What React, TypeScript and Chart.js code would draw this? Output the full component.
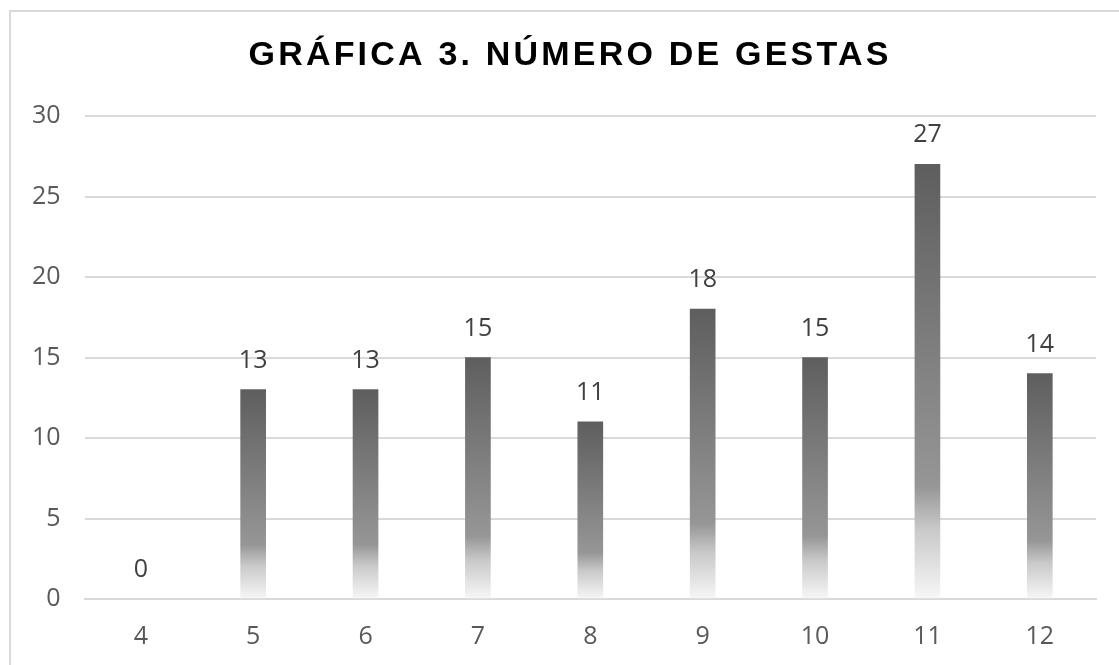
import React, { useEffect, useRef } from 'react';
import { Chart, registerables } from 'chart.js';

Chart.register(...registerables);

const TITLE = 'GRÁFICA 3. NÚMERO DE GESTAS';
const categories = ['4', '5', '6', '7', '8', '9', '10', '11', '12'];
const values = [0, 13, 13, 15, 11, 18, 15, 27, 14];
const yMin = 0;
const yMax = 30;
const yStep = 5;

const FONT = "'Open Sans', 'Liberation Sans', sans-serif";

export default function App() {
  const ref = useRef<HTMLCanvasElement>(null);

  useEffect(() => {
    const canvas = ref.current;
    if (!canvas) return;

    const barFill = (ctx: any) => {
      const chart = ctx.chart;
      const ys = chart.scales && chart.scales.y;
      if (!ys || ctx.raw === undefined) return '#7f7f7f';
      const top = ys.getPixelForValue(ctx.raw);
      const base = ys.getPixelForValue(0);
      if (!isFinite(top) || !isFinite(base) || base - top < 1) return 'rgba(0,0,0,0)';
      const g = chart.ctx.createLinearGradient(0, top, 0, base);
      g.addColorStop(0, '#5e5e5e');
      g.addColorStop(0.74, '#969696');
      g.addColorStop(0.84, '#c9c9c9');
      g.addColorStop(1, '#f7f7f7');
      return g;
    };

    const framePlugin = {
      id: 'frame',
      beforeDraw(chart: any) {
        const c = chart.ctx;
        c.save();
        c.fillStyle = '#ffffff';
        c.fillRect(0, 0, chart.width, chart.height);
        c.strokeStyle = '#d9d9d9';
        c.lineWidth = 2;
        c.beginPath();
        c.moveTo(10, chart.height + 5);
        c.lineTo(10, 11);
        c.lineTo(chart.width + 5, 11);
        c.stroke();
        c.restore();
      },
      afterDraw(chart: any) {
        const c = chart.ctx;
        c.save();
        c.fillStyle = '#000000';
        c.font = `bold 34px 'Liberation Sans', Arial, sans-serif`;
        (c as any).letterSpacing = '3.2px';
        c.textAlign = 'center';
        c.textBaseline = 'middle';
        c.fillText(TITLE, 570, 56);
        c.restore();
      },
    };

    const labelPlugin = {
      id: 'barLabels',
      afterDatasetsDraw(chart: any) {
        const c = chart.ctx;
        const meta = chart.getDatasetMeta(0);
        c.save();
        c.fillStyle = '#404040';
        c.font = `25px ${FONT}`;
        c.textAlign = 'center';
        c.textBaseline = 'alphabetic';
        meta.data.forEach((bar: any, i: number) => {
          c.fillText(String(values[i]), bar.x, bar.y - 22);
        });
        c.restore();
      },
    };

    const chart = new Chart(canvas, {
      type: 'bar',
      data: {
        labels: categories,
        datasets: [
          {
            data: values,
            backgroundColor: barFill,
            borderWidth: 0,
            barThickness: 25,
          },
        ],
      },
      options: {
        responsive: false,
        animation: false,
        layout: { padding: { top: 116, right: 23, left: 8, bottom: 25 } },
        plugins: {
          legend: { display: false },
          title: { display: false },
          tooltip: { enabled: false },
        },
        scales: {
          x: {
            grid: { display: false, drawTicks: false },
            border: { display: true, color: '#d9d9d9', width: 2 },
            ticks: { color: '#595959', font: { family: FONT, size: 25 }, padding: 23 },
          },
          y: {
            min: yMin,
            max: yMax,
            grid: { color: '#d9d9d9', lineWidth: 2, drawTicks: false },
            border: { display: false },
            ticks: {
              stepSize: yStep,
              color: '#595959',
              font: { family: FONT, size: 25 },
              padding: 24,
            },
          },
        },
      },
      plugins: [framePlugin, labelPlugin],
    });

    return () => chart.destroy();
  }, []);

  return (
    <div style={{ position: 'absolute', left: 0, top: 0, width: 1119, height: 665, overflow: 'hidden', background: '#fff' }}>
      <canvas ref={ref} width={1119} height={700} style={{ display: 'block', width: 1119, height: 700 }} />
    </div>
  );
}
